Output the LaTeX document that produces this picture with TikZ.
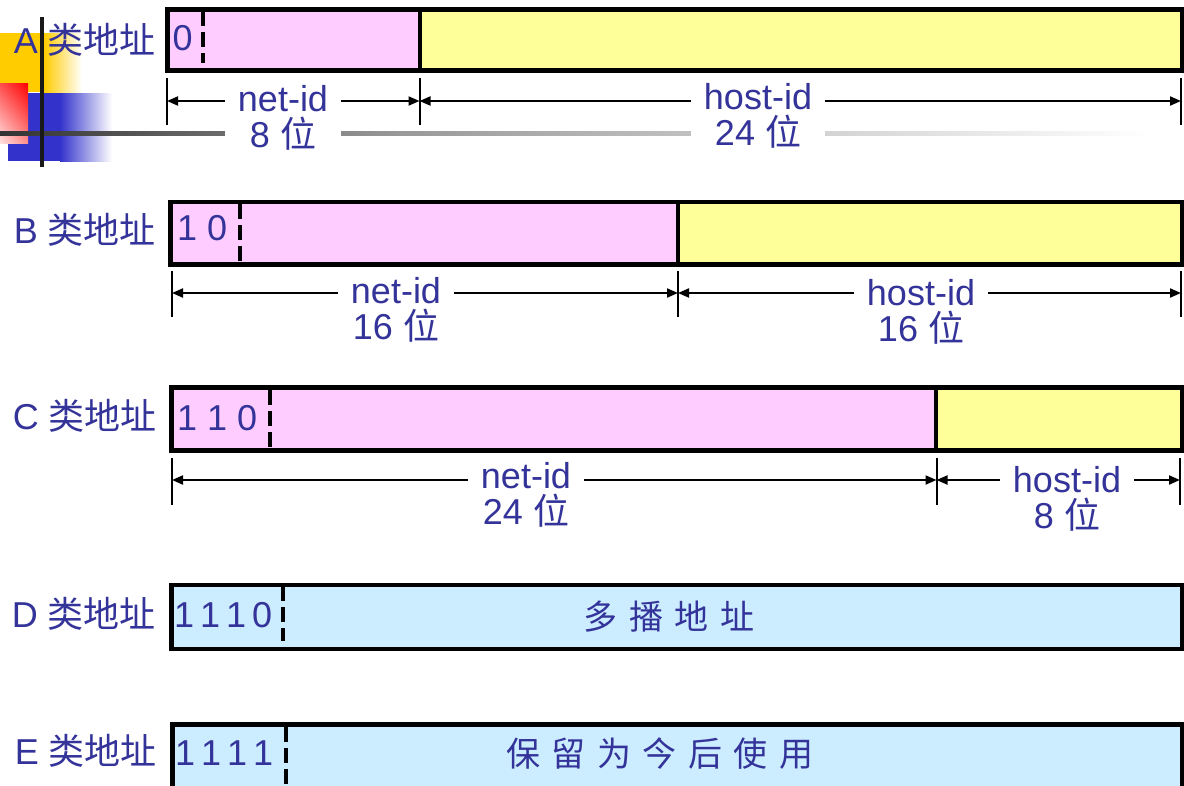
\documentclass[tikz,border=0pt]{standalone}
\usepackage{fontspec}
\setmainfont{Liberation Sans}
\newfontfamily\cjk{Noto Sans CJK SC}
\usetikzlibrary{arrows.meta,shadings}
\definecolor{tc}{RGB}{51,51,153}
\definecolor{pinkf}{RGB}{255,204,255}
\definecolor{yelf}{RGB}{255,255,153}
\definecolor{bluef}{RGB}{204,236,255}
\definecolor{decoy}{RGB}{255,204,0}
\definecolor{decob}{RGB}{51,51,204}
\definecolor{decor}{RGB}{255,0,0}
\begin{document}
\begin{tikzpicture}[x=1pt,y=-1pt,
  rowlab/.style={text=tc,font=\fontsize{36}{36}\selectfont,inner sep=0pt,anchor=base east},
  bits/.style={text=tc,font=\fontsize{36}{36}\selectfont,inner sep=0pt,anchor=base west},
  dimlab/.style={text=tc,font=\fontsize{36}{36}\selectfont,fill=white,align=center,inner xsep=13pt,inner ysep=2pt},
  inlab/.style={text=tc,font=\fontsize{34}{34}\cjk\selectfont,inner sep=0pt},
  boxline/.style={draw=black,line width=4.5pt},
  divline/.style={draw=black,line width=3.5pt},
  sepline/.style={draw=black,line width=3.5pt,dash pattern=on 15pt off 6pt},
  tickline/.style={draw=black,line width=2pt},
  dimarrow/.style={draw=black,line width=2pt,{Triangle[length=11pt,width=9pt]}-{Triangle[length=11pt,width=9pt]}},
]
\useasboundingbox (0,0) rectangle (1184,785);
\clip (0,0) rectangle (1184,785);
\fill[white] (0,0) rectangle (1184,785);

% ---- template decoration
\fill[decoy] (0,33) rectangle (44,92);
\shade[left color=decoy,right color=white] (44,33) rectangle (82,92);
\fill[decob] (8,93) rectangle (60,161);
\shade[left color=decob,right color=white] (60,93) rectangle (112,161);
\shade[upper right=decor,upper left=decor!70!white,lower right=decor!45!white,lower left=decor!12!white] (0,83) rectangle (28,143);
\shade[left color=black!80,right color=black!40] (0,131) rectangle (400,135);
\shade[left color=black!40,right color=white] (400,131) rectangle (1150,135);
\fill[black!90] (39.5,17) rectangle (43.5,167);

% ---- row labels
\node[rowlab] (la) at (156,53) {A {\cjk 类地址}};
\node[rowlab] (lb) at (156,243) {B {\cjk 类地址}};
\node[rowlab] (lc) at (157,429) {C {\cjk 类地址}};
\node[rowlab] (ld) at (156,627) {D {\cjk 类地址}};
\node[rowlab] (le) at (157,764) {E {\cjk 类地址}};

% ---- A
\fill[pinkf] (167.5,9.5) rectangle (420,70.5);
\fill[yelf] (420,9.5) rectangle (1182.5,70.5);
\draw[sepline] (203,11) -- (203,63);
\draw[divline] (420,9.5) -- (420,70.5);
\draw[boxline] (167.5,9.5) rectangle (1182.5,70.5);
\node[bits] (ba) at (172.5,50) {0};
\coordinate (A0) at (167,101);
\coordinate (A1) at (419.5,101);
\coordinate (A2) at (1181,101);
\foreach \c in {A0,A1,A2} \draw[tickline] ([yshift=23pt]\c) -- ([yshift=-24pt]\c);
\draw[dimarrow] (A0) -- (A1);
\draw[dimarrow] (A1) -- (A2);
\node[dimlab] (anet) at (283,118) {net-id\\8 {\cjk 位}};
\node[dimlab] (ahost) at (758,116) {host-id\\24 {\cjk 位}};

% ---- B
\fill[pinkf] (170.5,202) rectangle (678,264.5);
\fill[yelf] (678,202) rectangle (1182.5,264.5);
\draw[sepline] (240,204) -- (240,262);
\draw[divline] (678,202) -- (678,264.5);
\draw[boxline] (170.5,202) rectangle (1182.5,264.5);
\node[bits] (bb) at (177,240) {1 0};
\coordinate (B0) at (172,293);
\coordinate (B1) at (678,293);
\coordinate (B2) at (1181,293);
\foreach \c in {B0,B1,B2} \draw[tickline] ([yshift=22pt]\c) -- ([yshift=-24pt]\c);
\draw[dimarrow] (B0) -- (B1);
\draw[dimarrow] (B1) -- (B2);
\node[dimlab] (bnet) at (396,310) {net-id\\16 {\cjk 位}};
\node[dimlab] (bhost) at (921,312) {host-id\\16 {\cjk 位}};

% ---- C
\fill[pinkf] (171.5,387.5) rectangle (936,450.5);
\fill[yelf] (936,387.5) rectangle (1182.5,450.5);
\draw[sepline] (270,390) -- (270,448);
\draw[divline] (936,387.5) -- (936,450.5);
\draw[boxline] (171.5,387.5) rectangle (1182.5,450.5);
\node[bits] (bc) at (177,430) {1 1 0};
\coordinate (C0) at (172,480);
\coordinate (C1) at (936.5,480);
\coordinate (C2) at (1180,480);
\foreach \c in {C0,C1,C2} \draw[tickline] ([yshift=22pt]\c) -- ([yshift=-25pt]\c);
\draw[dimarrow] (C0) -- (C1);
\draw[dimarrow] (C1) -- (C2);
\node[dimlab] (cnet) at (526,495) {net-id\\24 {\cjk 位}};
\node[dimlab] (chost) at (1067,499) {host-id\\8 {\cjk 位}};

% ---- D
\fill[bluef] (171.5,585) rectangle (1182.5,649);
\draw[sepline] (283,586) -- (283,641);
\draw[boxline] (171.5,585) rectangle (1182.5,649);
\node[bits] (bd) at (174,627) {1\hspace{6pt}1\hspace{6pt}1\hspace{6pt}0};
\node[inlab] (td) at (669,617) {多\hspace{11.5pt}播\hspace{11.5pt}地\hspace{11.5pt}址};

% ---- E
\fill[bluef] (172.5,724.5) rectangle (1182.5,800);
\draw[sepline] (286,727) -- (286,792);
\draw[boxline] (172.5,724.5) rectangle (1182.5,800);
\node[bits] (be) at (175,765) {1\hspace{6pt}1\hspace{6pt}1\hspace{6pt}1};
\node[inlab] (te) at (660,754) {保\hspace{11.5pt}留\hspace{11.5pt}为\hspace{11.5pt}今\hspace{11.5pt}后\hspace{11.5pt}使\hspace{11.5pt}用};
\end{tikzpicture}
\end{document}
